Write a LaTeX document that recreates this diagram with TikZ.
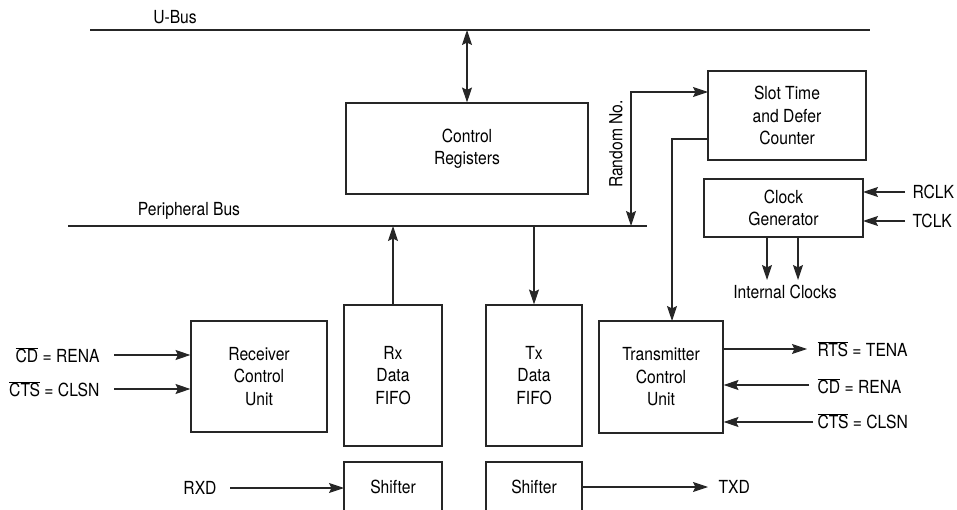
\documentclass[tikz,border=0pt]{standalone}
\usepackage{fontspec}
\setmainfont{TeX Gyre Heros}[FakeStretch=0.87]
\usetikzlibrary{arrows.meta}
\newcommand\ovl[1]{$\overline{\mbox{#1}}$}
\begin{document}
\begin{tikzpicture}[x=1pt,y=-1pt,
  font=\fontsize{18}{22.5}\selectfont,
  line width=1.1pt,
  ln/.style={draw=black!85},
  box/.style={draw=black!85, align=center, inner sep=0pt, minimum width=#1},
  arr/.style={draw=black!85, -{Stealth[length=15pt,width=10pt,inset=2.5pt]}},
  darr/.style={draw=black!85, {Stealth[length=15pt,width=10pt,inset=2.5pt]}-{Stealth[length=15pt,width=10pt,inset=2.5pt]}},
  lbl/.style={inner sep=0pt}]
\useasboundingbox (0,0) rectangle (957,510);
% buses
\coordinate (ubusL) at (90,30);
\coordinate (ubusR) at (870,30);
\coordinate (pbusL) at (68,226);
\coordinate (pbusR) at (647,226);
\draw[ln] (ubusL) -- (ubusR);
\draw[ln] (pbusL) -- (pbusR);
\node[lbl] (ubuslbl) at (175,17) {U-Bus};
\node[lbl] (pbuslbl) at (189,211) {Peripheral Bus};
% boxes
\node[box=242pt, minimum height=91pt] (ctrl) at (467,148.5) {Control\\Registers};
\node[box=158pt, minimum height=89pt] (slot) at (787,115.5) {Slot Time\\and Defer\\Counter};
\node[box=159pt, minimum height=58pt] (clk) at (783.5,208) {Clock\\Generator};
\node[box=136pt, minimum height=111pt] (rcu) at (259,376.5) {Receiver\\Control\\Unit};
\node[box=98pt, minimum height=141pt] (rxf) at (393,375.5) {Rx\\Data\\FIFO};
\node[box=96pt, minimum height=141pt] (txf) at (534,375.5) {Tx\\Data\\FIFO};
\node[box=124pt, minimum height=112pt] (tcu) at (661,377) {Transmitter\\Control\\Unit};
% shifters (cut by the lower edge)
\draw[ln] (344,510) -- (344,462) -- (442,462) -- (442,510);
\draw[ln] (486,510) -- (486,462) -- (582,462) -- (582,510);
\node[lbl] (rxsh) at (393,487) {Shifter};
\node[lbl] (txsh) at (534,487) {Shifter};
% bus arrows
\draw[darr] (ctrl.north |- ubusL) -- (ctrl.north);
\draw[arr] (rxf.north) -- (rxf.north |- pbusL);
\draw[arr] (txf.north |- pbusL) -- (txf.north);
% random number
\coordinate (rnbus) at (631,226);
\coordinate (slotin) at (708,92);
\draw[darr] (rnbus) |- (slotin);
\node[lbl, rotate=90] (rnlbl) at (616,144) {Random No.};
% slot to transmitter
\coordinate (slotout) at (708,139);
\coordinate (tcuin) at (672,321);
\draw[arr] (slotout) -| (tcuin);
% clocks
\node[lbl, anchor=west] (rclk) at (912,192) {RCLK};
\node[lbl, anchor=west] (tclk) at (912,221) {TCLK};
\coordinate (rclkin) at (863,192);
\coordinate (tclkin) at (863,221);
\coordinate (rclks) at (905,192);
\coordinate (tclks) at (905,221);
\draw[arr] (rclks) -- (rclkin);
\draw[arr] (tclks) -- (tclkin);
\coordinate (ic1) at (767,237);
\coordinate (ic2) at (798,237);
\coordinate (ic1e) at (767,280);
\coordinate (ic2e) at (798,280);
\draw[arr] (ic1) -- (ic1e);
\draw[arr] (ic2) -- (ic2e);
\node[lbl] (iclbl) at (785,292) {Internal Clocks};
% receiver inputs
\node[lbl, anchor=east] (rcd) at (100,355) {\ovl{CD} = RENA};
\node[lbl, anchor=east] (rcts) at (100,389) {\ovl{CTS} = CLSN};
\coordinate (rcds) at (114,355);
\coordinate (rctss) at (114,389);
\draw[arr] (rcds) -- (rcu.west |- rcds);
\draw[arr] (rctss) -- (rcu.west |- rctss);
\node[lbl] (rxd) at (200,488) {RXD};
\coordinate (rxds) at (230,488);
\coordinate (rxde) at (344,488);
\draw[arr] (rxds) -- (rxde);
% transmitter outputs
\node[lbl, anchor=west] (rts) at (817,349) {\ovl{RTS} = TENA};
\node[lbl, anchor=west] (tcd) at (817,386) {\ovl{CD} = RENA};
\node[lbl, anchor=west] (tcts) at (817,421) {\ovl{CTS} = CLSN};
\coordinate (rtse) at (807,349);
\coordinate (tcds) at (809,385);
\coordinate (tctss) at (813,422);
\draw[arr] (tcu.east |- rtse) -- (rtse);
\draw[arr] (tcds) -- (tcu.east |- tcds);
\draw[arr] (tctss) -- (tcu.east |- tctss);
\node[lbl, anchor=west] (txd) at (718,487) {TXD};
\coordinate (txds) at (582,487);
\coordinate (txde) at (708,487);
\draw[arr] (txds) -- (txde);
\end{tikzpicture}
\end{document}
